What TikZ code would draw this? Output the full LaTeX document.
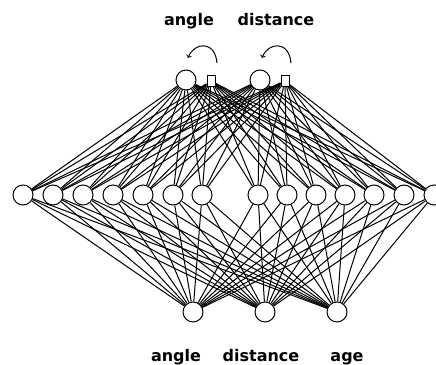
\documentclass[tikz,border=0pt]{standalone}
\usepackage{fontspec}
\setmainfont{DejaVu Sans}
\usepackage{tikz}

\begin{document}
\begin{tikzpicture}[x=1pt, y=-1pt, line width=1pt,
  unit/.style={circle, draw, minimum size=20pt, inner sep=0pt},
  ctx/.style={rectangle, draw, minimum width=8pt, minimum height=11pt, inner sep=0pt},
  lbl/.style={font=\fontsize{16}{18}\selectfont\bfseries, anchor=base}]
\useasboundingbox (0,0) rectangle (436,364);
% output layer with context units
\node[lbl] (tA) at (189, 25) {angle};
\node[lbl] (tD) at (276, 25) {distance};
\node[unit] (out1) at (186, 80) {};
\node[ctx] (ctx1) at (211, 81) {};
\node[unit] (out2) at (260, 80) {};
\node[ctx] (ctx2) at (285, 81) {};
% copy-back loops
\coordinate (r1) at (217, 63);
\coordinate (l1) at (188, 58);
\coordinate (r2) at (291, 63);
\coordinate (l2) at (262, 58);
\draw[->] (r1) .. controls (215, 40) and (194, 42) .. (l1);
\draw[->] (r2) .. controls (289, 40) and (268, 42) .. (l2);
% hidden layer
\node[unit] (h1) at (23, 195) {};
\node[unit] (h2) at (53, 195) {};
\node[unit] (h3) at (83, 195) {};
\node[unit] (h4) at (113, 195) {};
\node[unit] (h5) at (143, 195) {};
\node[unit] (h6) at (173, 195) {};
\node[unit] (h7) at (202, 195) {};
\node[unit] (h8) at (258, 195) {};
\node[unit] (h9) at (287, 195) {};
\node[unit] (h10) at (316, 195) {};
\node[unit] (h11) at (345, 195) {};
\node[unit] (h12) at (374, 195) {};
\node[unit] (h13) at (404, 195) {};
\node[unit] (h14) at (434, 195) {};
% input layer
\node[unit] (in1) at (193, 312) {};
\node[unit] (in2) at (265, 312) {};
\node[unit] (in3) at (337, 312) {};
\node[lbl] (bA) at (176, 361) {angle};
\node[lbl] (bD) at (261, 361) {distance};
\node[lbl] (bG) at (347, 361) {age};
% connections
\foreach \t in {out1, ctx1, out2, ctx2}
  \foreach \h in {1,...,14}
    \draw (\t) -- (h\h);
\foreach \i in {in1, in2, in3}
  \foreach \h in {1,...,14}
    \draw (\i) -- (h\h);
\end{tikzpicture}
\end{document}
